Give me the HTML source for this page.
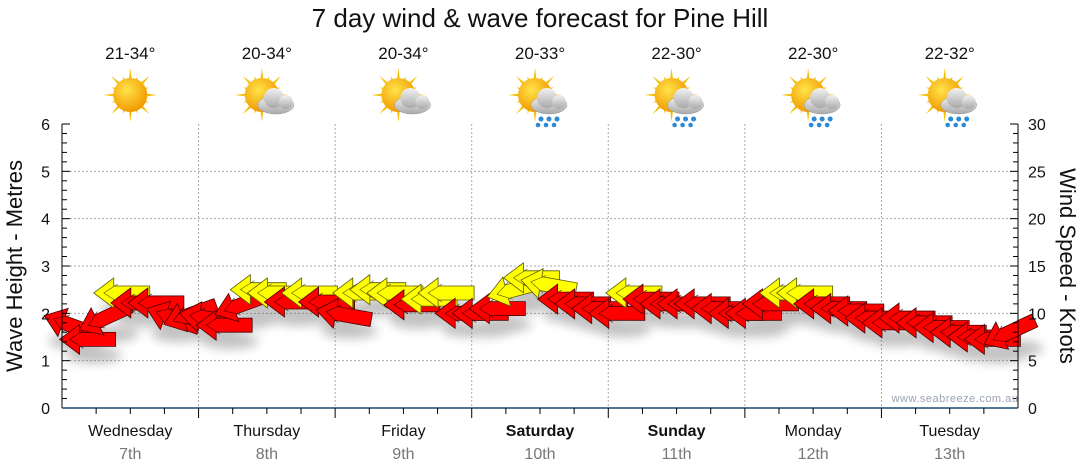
<!DOCTYPE html>
<html><head><meta charset="utf-8"><style>
body{margin:0;background:#fff;}
svg{display:block;font-family:"Liberation Sans",sans-serif;}
</style></head><body>
<svg id="chart" width="1080" height="475">
<defs>
<radialGradient id="sunG" cx="40%" cy="35%" r="65%"><stop offset="0" stop-color="#ffe34a"/><stop offset="1" stop-color="#f29a00"/></radialGradient>
<linearGradient id="cloudG" x1="0" y1="0" x2="0" y2="1"><stop offset="0" stop-color="#f2f2f2"/><stop offset="1" stop-color="#a9a9a9"/></linearGradient>
<filter id="blur"><feGaussianBlur stdDeviation="5"/></filter>
</defs>
<text x="540" y="27" font-size="26" text-anchor="middle" fill="#111">7 day wind &amp; wave forecast for Pine Hill</text>
<g id="grid"></g>
<g id="icons"></g>
<g id="shadows" filter="url(#blur)" opacity="0.35"></g>
<g id="arrows"></g>
<g id="axes"></g>
<text x="955" y="402" font-size="11" text-anchor="middle" fill="#9aa3b5" letter-spacing="0.5">www.seabreeze.com.au</text>
<text transform="translate(22,266) rotate(-90)" font-size="22" text-anchor="middle" fill="#111">Wave Height - Metres</text>
<text transform="translate(1060,266) rotate(90)" font-size="22" text-anchor="middle" fill="#111">Wind Speed - Knots</text>
</svg>
<script>
const days=["Wednesday","Thursday","Friday","Saturday","Sunday","Monday","Tuesday"];
const dates=["7th","8th","9th","10th","11th","12th","13th"];
const boldDays=[false,false,false,true,true,false,false];
const temps=["21-34°","20-34°","20-34°","20-33°","22-30°","22-30°","22-32°"];
const weather=["sun","cloud","cloud","rain","rain","rain","rain"];
const waveTicks=[0,1,2,3,4,5,6];
const windTicks=[0,5,10,15,20,25,30];
const waveHeights=[1.75,1.45,1.9,2.43,2.22,2.22,1.9,1.97, 1.9,1.75,2.18,2.5,2.43,2.24,2.43,2.24, 1.97,2.43,2.5,2.43,2.18,2.3,2.43,2.0, 2.0,2.1,2.5,2.75,2.6,2.3,2.2,2.1, 2.0,2.43,2.3,2.2,2.2,2.2,2.1,2.0, 2.0,2.2,2.43,2.43,2.2,2.1,2.05,1.9, 1.8,1.9,1.8,1.7,1.6,1.5,1.45,1.6];
const windSpeeds=[10,9,10,12,10,10,10,10, 10,9,10,13,13,11,13,11, 10,13,13,13,11,13,13,10, 10,10,13,14,14,11,11,10, 10,13,11,11,11,11,10,10, 10,11,13,13,11,10,10,10, 10,10,10,9,9,8,8,9];
const windDirs=[20,0,-25,0,0,0,20,-20, 10,0,-20,0,0,0,0,0, 10,0,0,0,0,0,0,0, 0,0,-15,0,10,0,0,0, 0,0,0,0,0,0,0,0, 0,0,0,0,0,0,0,0, 0,0,0,0,0,0,0,-25];
const NS="http://www.w3.org/2000/svg";
const L=62,R=1018,T=124,B=408;
const xDay=d=>L+d*(R-L)/7;
const xSlot=i=>L+(i+0.5)*(R-L)/56;
const yWave=h=>B-h*(B-T)/6;
const yWind=w=>B-w*(B-T)/30;
function mk(tag,attrs,parent){const e=document.createElementNS(NS,tag);for(const k in attrs)e.setAttribute(k,attrs[k]);parent.appendChild(e);return e;}
const grid=document.getElementById('grid'),axes=document.getElementById('axes'),icons=document.getElementById('icons'),arrows=document.getElementById('arrows'),shadows=document.getElementById('shadows');
waveTicks.forEach(v=>{if(v>0&&v<6){const g=mk('line',{x1:L,x2:R,y1:yWave(v),y2:yWave(v),stroke:'#aaa','stroke-dasharray':'2,2'},grid);}
const t=mk('text',{x:50,y:yWave(v)+6,'font-size':16,'text-anchor':'end',fill:'#111'},axes);t.textContent=v;});
windTicks.forEach(v=>{const t=mk('text',{x:1028,y:yWind(v)+6,'font-size':16,fill:'#111'},axes);t.textContent=v;});
for(let d=1;d<7;d++){const g=mk('line',{x1:xDay(d),x2:xDay(d),y1:T,y2:B,stroke:'#aaa','stroke-dasharray':'2,2'},grid);}
mk('line',{x1:L,x2:L,y1:T,y2:B,stroke:'#000'},axes);
mk('line',{x1:R,x2:R,y1:T,y2:B,stroke:'#000'},axes);
for(let v=0;v<=6.001;v+=0.2){const y=yWave(v);const big=Math.abs(v-Math.round(v))<0.01;mk('line',{x1:L,x2:L+(big?8:5),y1:y,y2:y,stroke:'#000'},axes);}
for(let v=0;v<=30;v+=1){const y=yWind(v);const big=v%5==0;mk('line',{x1:R-(big?8:5),x2:R,y1:y,y2:y,stroke:'#000'},axes);}
mk('line',{x1:L,x2:R,y1:B,y2:B,stroke:'#1b4a73','stroke-width':1.5},axes);
for(let q=1;q<28;q++){const x=L+q*(R-L)/28;mk('line',{x1:x,x2:x,y1:B,y2:B+(q%4==0?10:6),stroke:'#000'},axes);}
days.forEach((d,i)=>{const cx=(xDay(i)+xDay(i+1))/2;
const t=mk('text',{x:cx,y:436,'font-size':16,'text-anchor':'middle',fill:'#111','font-weight':boldDays[i]?'bold':'normal'},axes);t.textContent=d;
const t2=mk('text',{x:cx,y:459,'font-size':16,'text-anchor':'middle',fill:'#777'},axes);t2.textContent=dates[i];
const t3=mk('text',{x:cx,y:59,'font-size':17,'text-anchor':'middle',fill:'#111'},icons);t3.textContent=temps[i];
const g=mk('g',{transform:`translate(${cx-(weather[i]=='sun'?0:5)},95)`},icons);
for(let k=0;k<16;k++){const a=k*Math.PI/8,l=k%2?20:27;mk('polygon',{points:`${Math.cos(a-0.12)*14},${Math.sin(a-0.12)*14} ${Math.cos(a)*l},${Math.sin(a)*l} ${Math.cos(a+0.12)*14},${Math.sin(a+0.12)*14}`,fill:'#f5c000'},g);}
mk('circle',{cx:0,cy:0,r:17,fill:'url(#sunG)'},g);
if(weather[i]!='sun'){const c=mk('g',{transform:'translate(14,6)'},g);
mk('ellipse',{cx:0,cy:4,rx:18,ry:9,fill:'url(#cloudG)',stroke:'#999','stroke-width':0.5},c);mk('circle',{cx:-2,cy:-3,r:10,fill:'url(#cloudG)'},c);mk('circle',{cx:10,cy:1,r:7,fill:'url(#cloudG)'},c);
if(weather[i]=='rain'){[-8,0,8].forEach(dx=>{mk('circle',{cx:dx,cy:18,r:2.5,fill:'#2a8ad6'},c);mk('circle',{cx:dx-3,cy:24,r:2.3,fill:'#2a8ad6'},c);});}}
});
waveHeights.forEach((h,i)=>{const x=xSlot(i),y=yWave(h);
mk('ellipse',{cx:x+6,cy:y+16,rx:28,ry:8,fill:'#555'},shadows);
const col=windSpeeds[i]>=12?'#ffff00':'#ff0000';
const sc=col=='#ffff00'?'#5a5a00':'#4a0000';
const g=mk('g',{transform:`translate(${x},${y}) rotate(${windDirs[i]})`},arrows);


mk('polygon',{points:'-28,0 -8,-15 -8,-7 28,-7 28,7 -8,7 -8,15',fill:col,stroke:sc,'stroke-width':0.8},g);
mk('polyline',{points:'-4,-9 -18,0 -4,9',fill:'none',stroke:sc,'stroke-width':0.6},g);
});
</script>
</body></html>
